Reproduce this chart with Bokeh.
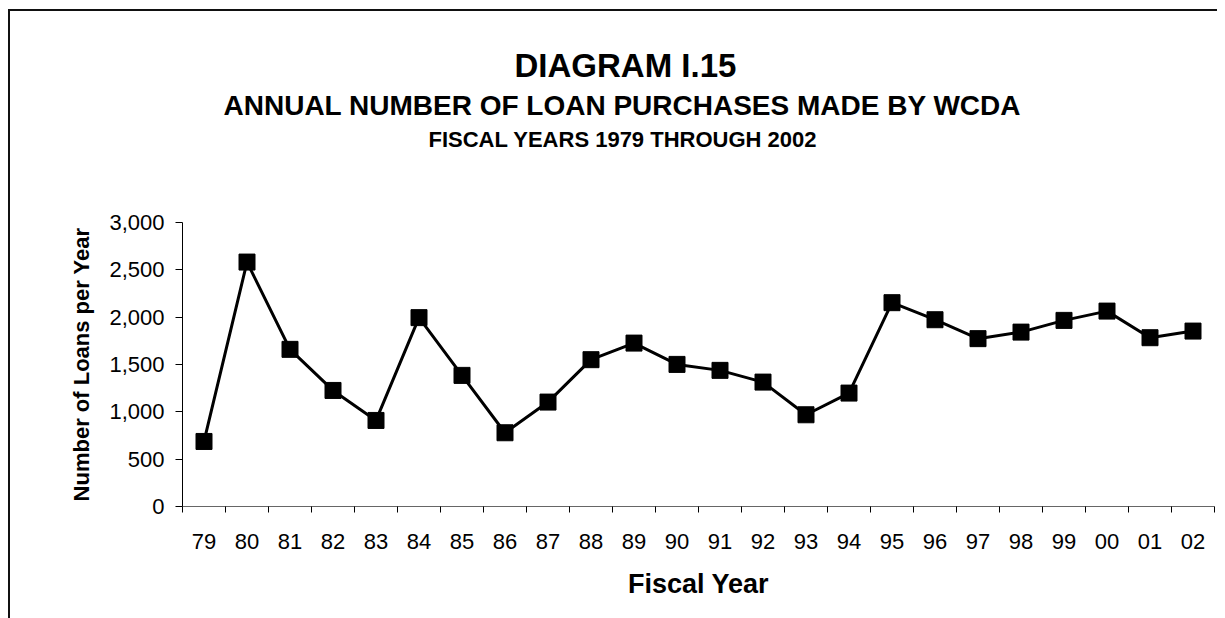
import numpy as np
from bokeh.plotting import figure
from bokeh.models import (Range1d, FixedTicker, NumeralTickFormatter, Title,
                          ColumnDataSource)
from bokeh.embed import file_html
from bokeh.resources import INLINE

# ---- data ----
years = ["79", "80", "81", "82", "83", "84", "85", "86", "87", "88", "89", "90",
         "91", "92", "93", "94", "95", "96", "97", "98", "99", "00", "01", "02"]
loans = [687, 2582, 1660, 1226, 909, 1995, 1385, 779, 1103, 1551, 1726, 1501,
         1438, 1314, 969, 1198, 2153, 1973, 1773, 1842, 1966, 2064, 1783, 1853]
y_ticks = [0, 500, 1000, 1500, 2000, 2500, 3000]

title_main = "DIAGRAM I.15"
title_sub = "ANNUAL NUMBER OF LOAN PURCHASES MADE BY WCDA"
title_sub2 = "FISCAL YEARS 1979 THROUGH 2002"

FONT = "Liberation Sans"

n = len(years)
centers = list(np.arange(n) + 0.5)
bounds = list(np.arange(n + 1).astype(float))

src = ColumnDataSource(dict(x=centers, y=loans))

p = figure(width=1217, height=618, output_backend="svg", toolbar_location=None,
           x_range=Range1d(0, n), y_range=Range1d(0, 3000),
           min_border_left=182, min_border_right=3, min_border_top=222,
           min_border_bottom=112)
p.background_fill_color = "white"
p.border_fill_color = None
p.outline_line_color = None
p.xgrid.visible = False
p.ygrid.visible = False
p.styles = {
    "background": "linear-gradient(#111,#111) 8px 9px / 2px 100% no-repeat, "
                  "linear-gradient(#111,#111) 8px 9px / 100% 2px no-repeat, white"
}

p.line("x", "y", source=src, line_color="black", line_width=3)
p.scatter("x", "y", source=src, marker="square", size=16,
          fill_color="black", line_color="black")

# x axis
xa = p.xaxis[0]
xa.ticker = FixedTicker(ticks=centers, minor_ticks=bounds)
xa.major_label_overrides = {c: lab for c, lab in zip(centers, years)}
xa.major_tick_out = 0
xa.major_tick_in = 0
xa.minor_tick_out = 6
xa.minor_tick_in = 0
xa.minor_tick_line_color = "black"
xa.axis_line_color = "#666666"
xa.major_label_standoff = 21
xa.major_label_text_font = FONT
xa.major_label_text_font_size = "22px"
xa.major_label_text_color = "black"
xa.axis_label = "Fiscal Year"
xa.axis_label_text_font = FONT
xa.axis_label_text_font_size = "27px"
xa.axis_label_text_font_style = "bold"
xa.axis_label_text_color = "black"
xa.axis_label_standoff = 17

# y axis
ya = p.yaxis[0]
ya.ticker = FixedTicker(ticks=y_ticks)
ya.formatter = NumeralTickFormatter(format="0,0")
ya.major_tick_out = 7
ya.major_tick_in = 0
ya.minor_tick_out = 0
ya.minor_tick_in = 0
ya.axis_line_color = "black"
ya.major_tick_line_color = "black"
ya.major_label_standoff = 11
ya.major_label_text_font = FONT
ya.major_label_text_font_size = "22px"
ya.major_label_text_color = "black"
ya.axis_label = "Number of Loans per Year"
ya.axis_label_text_font = FONT
ya.axis_label_text_font_size = "22px"
ya.axis_label_text_font_style = "bold"
ya.axis_label_text_color = "black"
ya.axis_label_standoff = 12

# spacer between titles and the plot frame (blank title)
p.add_layout(Title(text=" ", standoff=58, text_font=FONT, text_font_size="10px"),
             "above")

# titles (added bottom-up: the last one added sits on top)
for txt, off, fs, so in [(title_sub2, 246, "22px", 0),
                         (title_sub, 41, "28px", 8),
                         (title_main, 332, "33px", 0)]:
    p.add_layout(Title(text=txt, align="left", offset=off, standoff=so,
                       text_font=FONT, text_font_size=fs, text_font_style="bold",
                       text_color="black"), "above")

open("out.html", "w").write(file_html(p, INLINE))
